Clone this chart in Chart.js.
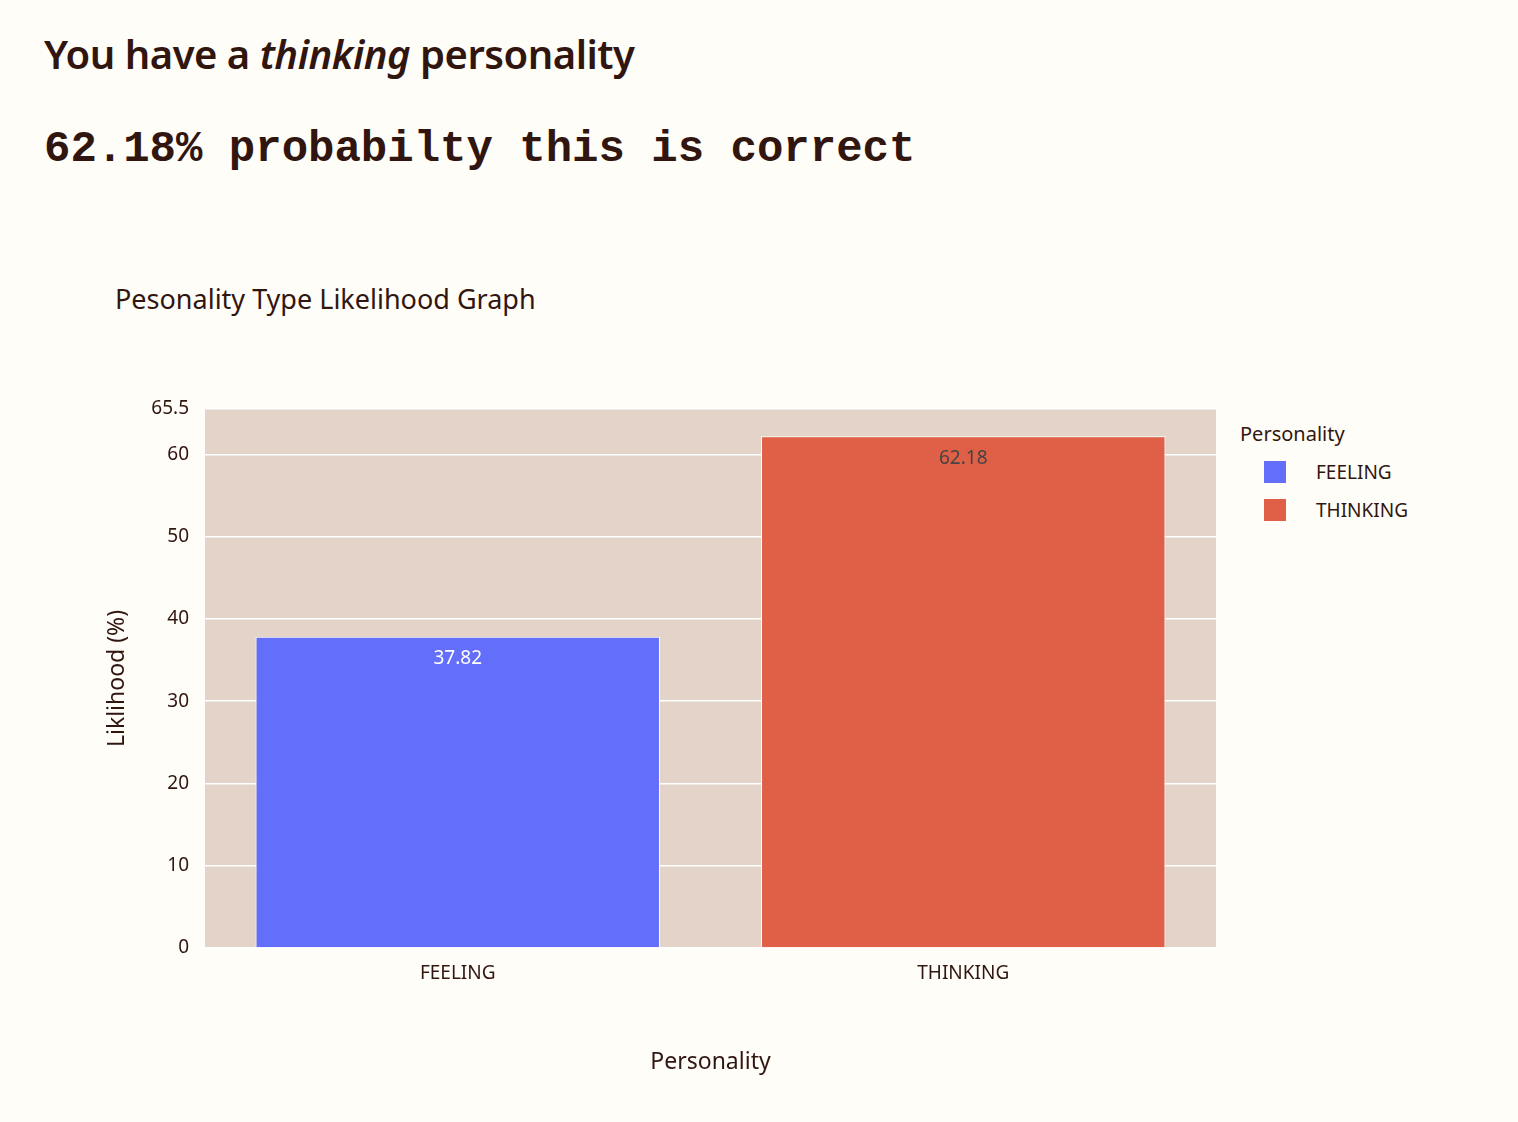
<!DOCTYPE html>
<html>
<head>
<meta charset="utf-8">
<script src="https://cdn.jsdelivr.net/npm/chart.js@4"></script>
<style>
  body { margin: 0; background: #fffdf8; color: #31160f; font-family: "Noto Sans", sans-serif; }
  #h1 { position: absolute; left: 44px; top: 26px; font-size: 40px; font-weight: 600; letter-spacing: -0.5px; }
  #h2 { position: absolute; left: 44px; top: 124px; font-family: "Liberation Mono", monospace; font-size: 44px; font-weight: bold; }
  #title { position: absolute; left: 115px; top: 280px; font-size: 27px; }
  #wrap { position: absolute; left: 100px; top: 380px; width: 1130px; height: 700px; }
  #legend { position: absolute; left: 1240px; top: 420px; font-size: 20px; }
  .item { display: flex; align-items: center; margin-top: 12px; margin-left: 24px; font-size: 19px; }
  .box { width: 22px; height: 22px; margin-right: 30px; }
</style>
</head>
<body>
<div id="h1">You have a <i>thinking</i> personality</div>
<div id="h2">62.18% probabilty this is correct</div>
<div id="title">Pesonality Type Likelihood Graph</div>
<div id="wrap"><canvas id="chart"></canvas></div>
<div id="legend">Personality
  <div class="item"><div class="box" style="background:#636efa"></div>FEELING</div>
  <div class="item"><div class="box" style="background:#e05f47"></div>THINKING</div>
</div>
<script>
const categories = ['FEELING', 'THINKING'];
const feelingValues = [37.82, null];
const thinkingValues = [null, 62.18];
const colors = ['#636efa', '#e05f47'];
const labelColors = ['#ffffff', '#444444'];

const plotBg = {
  id: 'plotBg',
  beforeDraw(c) {
    const a = c.chartArea, ctx = c.ctx;
    ctx.save(); ctx.fillStyle = '#e3d3c8';
    ctx.fillRect(a.left, a.top, a.right - a.left, a.bottom - a.top);
    ctx.restore();
  }
};
const barLabels = {
  id: 'barLabels',
  afterDatasetsDraw(c) {
    const ctx = c.ctx;
    ctx.save();
    ctx.font = '19px "Noto Sans"'; ctx.textAlign = 'center'; ctx.textBaseline = 'middle';
    c.data.datasets.forEach((ds, i) => {
      c.getDatasetMeta(i).data.forEach((el, j) => {
        if (ds.data[j] == null) return;
        ctx.fillStyle = labelColors[i];
        ctx.fillText(ds.data[j].toFixed(2), el.x, el.y + 22);
      });
    });
    ctx.restore();
  }
};

new Chart(document.getElementById('chart'), {
  type: 'bar',
  data: {
    labels: categories,
    datasets: [
      { label: 'FEELING', data: feelingValues, backgroundColor: colors[0], borderColor: '#ffffff', borderWidth: 1 },
      { label: 'THINKING', data: thinkingValues, backgroundColor: colors[1], borderColor: '#ffffff', borderWidth: 1 }
    ]
  },
  options: {
    responsive: true, maintainAspectRatio: false, animation: false,
    layout: { padding: { top: 29, right: 14 } },
    plugins: { legend: { display: false }, tooltip: { enabled: false } },
    datasets: { bar: { grouped: false, categoryPercentage: 0.8, barPercentage: 1 } },
    scales: {
      x: {
        grid: { display: false }, border: { display: false },
        ticks: { color: '#31160f', font: { size: 19, family: 'Noto Sans' }, padding: 6 },
        title: { display: true, text: 'Personality', color: '#31160f', font: { size: 23, family: 'Noto Sans' }, padding: { top: 22 } },
        afterFit(s) { s.height = 132; }
      },
      y: {
        min: 0, max: 65.5,
        grid: { color: '#ffffff', lineWidth: 1.5 }, border: { display: false },
        ticks: { stepSize: 10, color: '#31160f', font: { size: 19, family: 'Noto Sans' }, padding: 8 },
        title: { display: true, text: 'Liklihood (%)', color: '#31160f', font: { size: 23, family: 'Noto Sans' }, padding: { bottom: 20 } },
        afterFit(s) { s.width = 105; }
      }
    }
  },
  plugins: [plotBg, barLabels]
});
</script>
</body>
</html>
